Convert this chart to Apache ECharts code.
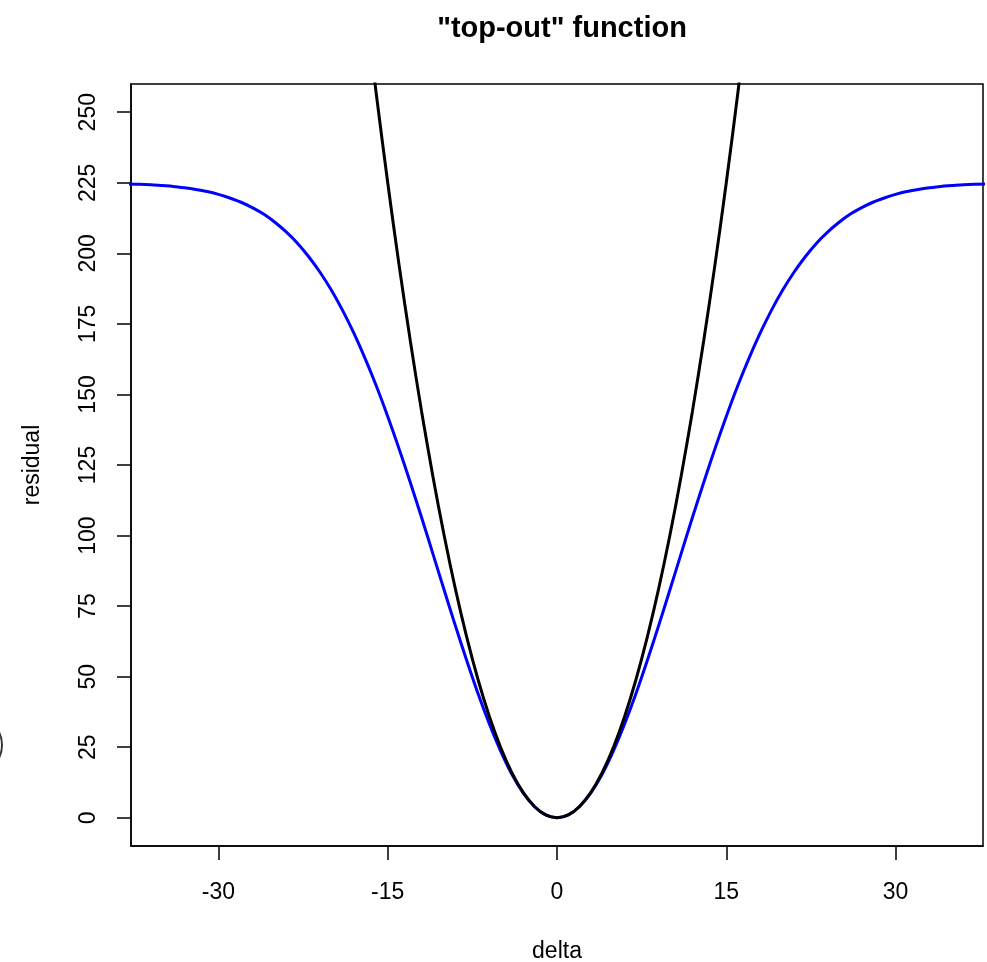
<!DOCTYPE html>
<html>
<head>
<meta charset="utf-8">
<title>"top-out" function</title>
<script src="https://cdn.jsdelivr.net/npm/echarts@6/dist/echarts.min.js"></script>
<style>
  html, body { margin: 0; padding: 0; background: #fff; }
  #chart { width: 987px; height: 962px; }
</style>
</head>
<body>
<div id="chart"></div>
<script>
// delta values along the x axis
const deltaBlue = [-38, -37, -36, -35, -34, -33, -32, -31, -30, -29, -28, -27, -26, -25, -24, -23, -22, -21, -20,
  -19, -18, -17, -16, -15, -14, -13, -12, -11, -10, -9, -8, -7, -6, -5, -4, -3, -2, -1,
  0, 1, 2, 3, 4, 5, 6, 7, 8, 9, 10, 11, 12, 13, 14, 15, 16, 17, 18, 19,
  20, 21, 22, 23, 24, 25, 26, 27, 28, 29, 30, 31, 32, 33, 34, 35, 36, 37, 38];
// top-out residual (blue), levels off near 225
const residualBlue = [224.6, 224.5, 224.3, 224.0, 223.7, 223.2, 222.6, 221.9, 220.9, 219.6, 218.1, 216.2, 213.9, 211.0, 207.6, 203.6, 198.8, 193.3, 187.0,
  179.8, 171.7, 162.7, 152.9, 142.2, 130.8, 118.8, 106.4, 93.6, 80.7, 68.0, 55.7, 44.0, 33.3, 23.7, 15.4, 8.8, 4.0, 1.0,
  0, 1.0, 4.0, 8.8, 15.4, 23.7, 33.3, 44.0, 55.7, 68.0, 80.7, 93.6, 106.4, 118.8, 130.8, 142.2, 152.9, 162.7, 171.7, 179.8,
  187.0, 193.3, 198.8, 203.6, 207.6, 211.0, 213.9, 216.2, 218.1, 219.6, 220.9, 221.9, 222.6, 223.2, 223.7, 224.0, 224.3, 224.5, 224.6];

// plain squared residual (black)
const deltaBlack = [-17, -16, -15, -14, -13, -12, -11, -10, -9, -8, -7, -6, -5, -4, -3, -2, -1,
  0, 1, 2, 3, 4, 5, 6, 7, 8, 9, 10, 11, 12, 13, 14, 15, 16, 17];
const residualBlack = [289, 256, 225, 196, 169, 144, 121, 100, 81, 64, 49, 36, 25, 16, 9, 4, 1,
  0, 1, 4, 9, 16, 25, 36, 49, 64, 81, 100, 121, 144, 169, 196, 225, 256, 289];

const xTicks = [-30, -15, 0, 15, 30];
const yTicks = [0, 25, 50, 75, 100, 125, 150, 175, 200, 225, 250];

const font = '"Liberation Sans", Arial, Helvetica, sans-serif';

let myChart = echarts.init(document.getElementById('chart'));
myChart.setOption({
  backgroundColor: '#fff',
  animation: false,
  textStyle: { fontFamily: font },
  title: {
    text: '"top-out" function',
    left: 557,
    top: 9,
    textAlign: 'center',
    textStyle: { fontSize: 29, fontWeight: 'bold', color: '#000', fontFamily: font }
  },
  grid: {
    left: 131,
    right: 4,
    top: 84,
    bottom: 116,
    outerBoundsMode: 'none',
    show: true,
    borderColor: '#000',
    borderWidth: 1.5
  },
  xAxis: {
    type: 'value',
    min: -37.75,
    max: 37.75,
    name: 'delta',
    nameLocation: 'middle',
    nameGap: 94,
    nameTextStyle: { fontSize: 23, color: '#000', fontFamily: font },
    axisLine: { show: true, onZero: false, lineStyle: { color: '#000', width: 1.5 } },
    axisTick: {
      show: true,
      length: 14,
      customValues: xTicks,
      lineStyle: { color: '#000', width: 1.5 }
    },
    axisLabel: {
      customValues: xTicks,
      fontSize: 23,
      color: '#000',
      margin: 35
    },
    splitLine: { show: false }
  },
  yAxis: {
    type: 'value',
    min: -10,
    max: 260,
    name: 'residual',
    nameLocation: 'middle',
    nameRotate: 90,
    nameGap: 87,
    nameTextStyle: { fontSize: 23, color: '#000', fontFamily: font },
    axisLine: { show: true, onZero: false, lineStyle: { color: '#000', width: 1.5 } },
    axisTick: {
      show: true,
      length: 14,
      customValues: yTicks,
      lineStyle: { color: '#000', width: 1.5 }
    },
    axisLabel: {
      customValues: yTicks,
      rotate: 90,
      fontSize: 23,
      color: '#000',
      margin: 31
    },
    splitLine: { show: false }
  },
  graphic: [
    {
      type: 'arc',
      shape: { cx: -28, cy: 745, r: 30, startAngle: -0.6, endAngle: 0.6 },
      style: { stroke: '#333', lineWidth: 2, fill: null },
      silent: true
    }
  ],
  series: [
    {
      type: 'line',
      data: deltaBlue.map((d, i) => [d, residualBlue[i]]),
      smooth: 0.3,
      showSymbol: false,
      clip: true,
      lineStyle: { color: '#0000ff', width: 3 }
    },
    {
      type: 'line',
      data: deltaBlack.map((d, i) => [d, residualBlack[i]]),
      smooth: 0.3,
      showSymbol: false,
      clip: true,
      lineStyle: { color: '#000', width: 3 }
    }
  ]
});
</script>
</body>
</html>
